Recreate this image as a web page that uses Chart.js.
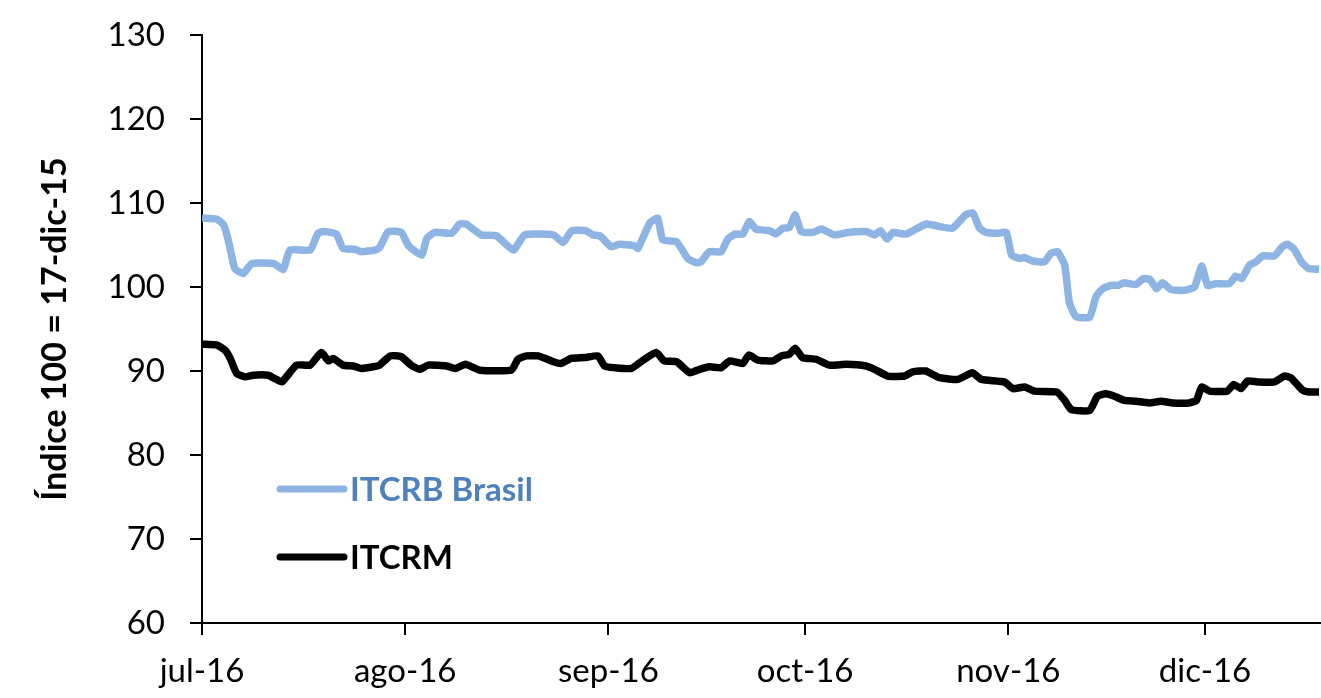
<!DOCTYPE html>
<html>
<head>
<meta charset="utf-8">
<script src="https://cdn.jsdelivr.net/npm/chart.js@4"></script>
<style>
  body { margin: 0; background: #fff; }
  #wrap { width: 1321px; height: 698px; }
</style>
</head>
<body>
<div id="wrap"><canvas id="chart" width="1321" height="698"></canvas></div>
<script>
// days counted from 1-jul-16
var monthStarts = [0, 31, 62, 92, 123, 153];
var monthLabels = ['jul-16', 'ago-16', 'sep-16', 'oct-16', 'nov-16', 'dic-16'];
var yTicks = [60, 70, 80, 90, 100, 110, 120, 130];

// ITCRB Brasil
var brasilDays = [0, 2.2, 3.3, 4, 5, 6.3, 7.6, 10.9, 12.4, 13.4, 16.5, 17.7, 18.5, 20.5, 21.5, 23.3, 24.3, 26.4, 27.1, 28.4,
    30.4, 31.5, 33.5, 34.3, 35.5, 38.1, 39.3, 40.3, 42.6, 44.9, 47.5, 49.2, 53.6, 55.1, 56.4, 58.6, 59.6, 60.7, 62.4, 63.7,
    66, 66.5, 68.3, 69.5, 70.3, 72.4, 74.1, 75.4, 76.1, 77.4, 79.2, 80.2, 81.3, 82.5, 83.5, 84.5, 86.6, 87.5, 88.6, 89.6,
    90.5, 91.4, 93.2, 94.5, 96.5, 98.5, 101.3, 102.6, 103.5, 104.5, 105.4, 107.4, 110.5, 112.5, 114.5, 116.5, 117.6, 118.6, 119.6, 121.4,
    122.7, 123.5, 124.7, 125.5, 126.7, 128.5, 129.5, 130.5, 131.6, 132.3, 133.3, 135.4, 136.4, 137.4, 138.7, 139.7, 140.7, 142.5, 143.6, 144.6,
    145.6, 146.5, 147.8, 149.8, 151.4, 152.5, 153.4, 154.6, 156.7, 157.7, 158.6, 159.8, 160.8, 161.8, 163.6, 164.8, 165.6, 166.6, 167.8, 168.8, 170.4];
var brasilValues = [108.2, 108.1, 107.4, 105.6, 102.2, 101.6, 102.8, 102.8, 102.1, 104.4, 104.4, 106.4, 106.6, 106.3, 104.6, 104.5, 104.2, 104.4, 104.7, 106.6,
    106.5, 104.9, 103.8, 105.8, 106.5, 106.4, 107.5, 107.5, 106.2, 106.1, 104.4, 106.2, 106.2, 105.3, 106.7, 106.7, 106.2, 106.1, 104.8, 105.1,
    104.9, 104.6, 107.6, 108.2, 105.6, 105.4, 103.4, 102.9, 103.0, 104.2, 104.2, 105.7, 106.3, 106.3, 107.8, 106.9, 106.7, 106.3, 107.0, 107.1,
    108.6, 106.6, 106.5, 106.9, 106.2, 106.5, 106.6, 106.2, 106.7, 105.7, 106.5, 106.3, 107.5, 107.2, 107.0, 108.6, 108.8, 107.0, 106.5, 106.4,
    106.5, 103.8, 103.4, 103.5, 103.1, 103.0, 104.0, 104.2, 102.6, 98.2, 96.5, 96.4, 98.9, 99.8, 100.2, 100.2, 100.5, 100.3, 101.0, 100.9,
    99.8, 100.5, 99.7, 99.6, 100.0, 102.5, 100.2, 100.4, 100.4, 101.3, 101.0, 102.6, 103.0, 103.7, 103.7, 104.8, 105.1, 104.5, 102.9, 102.2, 102.1];

// ITCRM
var itcrmDays = [0, 2.2, 3.5, 4.3, 5.3, 6.6, 7.8, 10.1, 11.1, 12.2, 14.4, 16.5, 18.2, 19.3, 20, 21.5, 23.1, 24.3, 26.1, 27.1,
    28.7, 30.4, 31.9, 33.2, 34.5, 37.3, 38.6, 40.2, 42.4, 47.2, 48.2, 49.5, 51.3, 53.6, 54.8, 56.3, 58.4, 60.4, 61.4, 62.9,
    65.5, 67.3, 69.3, 70.5, 72.4, 74.4, 75.9, 77.4, 79.2, 80.5, 82.5, 83.4, 84.8, 87.1, 88.4, 89.6, 90.5, 91.6, 93.7, 95.7,
    98.3, 101.3, 102.6, 104.6, 107.2, 108.4, 110.4, 112.5, 115.3, 117.5, 118.9, 122.4, 123.7, 125.5, 127, 130.4, 131.6, 132.6, 135.4, 136.6,
    137.9, 139.2, 140.7, 142.5, 144.5, 146.3, 148.1, 150.6, 151.7, 152.5, 153.7, 156.4, 157.4, 158.5, 159.5, 161, 163.6, 165.1, 166.1, 167.9, 168.9, 170.4];
var itcrmValues = [93.2, 93.1, 92.5, 91.5, 89.7, 89.3, 89.5, 89.5, 89.1, 88.7, 90.7, 90.7, 92.2, 91.2, 91.5, 90.7, 90.6, 90.3, 90.5, 90.7,
    91.8, 91.7, 90.7, 90.2, 90.7, 90.6, 90.3, 90.8, 90.1, 90.1, 91.4, 91.8, 91.8, 91.1, 90.9, 91.5, 91.6, 91.8, 90.6, 90.4,
    90.3, 91.3, 92.2, 91.2, 91.1, 89.8, 90.2, 90.5, 90.4, 91.2, 90.9, 91.9, 91.3, 91.2, 91.8, 92.0, 92.7, 91.6, 91.4, 90.7,
    90.8, 90.6, 90.2, 89.4, 89.4, 89.9, 90.0, 89.2, 89.0, 89.8, 89.0, 88.7, 87.9, 88.1, 87.6, 87.5, 86.5, 85.4, 85.3, 87.0,
    87.3, 87.0, 86.5, 86.4, 86.2, 86.4, 86.2, 86.2, 86.5, 88.1, 87.6, 87.6, 88.4, 87.9, 88.8, 88.7, 88.7, 89.4, 89.2, 87.7, 87.5, 87.5];

function toPoints(days, values) {
    var pts = [];
    for (var i = 0; i < days.length; i++) {
        pts.push({ x: days[i], y: values[i] });
    }
    return pts;
}

// leyenda dentro del area del grafico, como en el original
var insideLegend = {
    id: 'insideLegend',
    afterDatasetsDraw: function(chart) {
        var ctx = chart.ctx;
        var area = chart.chartArea;
        var rows = [
            { ds: chart.data.datasets[0], color: '#4F81BD', y: area.top + 454 },
            { ds: chart.data.datasets[1], color: '#000000', y: area.top + 522 }
        ];
        ctx.save();
        ctx.font = 'bold 33px Lato';
        ctx.textBaseline = 'middle';
        for (var i = 0; i < rows.length; i++) {
            var r = rows[i];
            ctx.beginPath();
            ctx.lineWidth = 7;
            ctx.lineCap = 'round';
            ctx.strokeStyle = r.ds.borderColor;
            ctx.moveTo(area.left + 78, r.y);
            ctx.lineTo(area.left + 142, r.y);
            ctx.stroke();
            ctx.fillStyle = r.color;
            ctx.fillText(r.ds.label, area.left + 148, r.y + 1);
        }
        ctx.restore();
    }
};

new Chart(document.getElementById('chart').getContext('2d'), {
    type: 'line',
    data: {
        datasets: [
            { label: 'ITCRB Brasil', data: toPoints(brasilDays, brasilValues), borderColor: '#8DB4E3', borderWidth: 7.5,
              pointRadius: 0, tension: 0.15, borderJoinStyle: 'round', fill: false },
            { label: 'ITCRM', data: toPoints(itcrmDays, itcrmValues), borderColor: '#000000', borderWidth: 7.5,
              pointRadius: 0, tension: 0.15, borderJoinStyle: 'round', fill: false }
        ]
    },
    options: {
        responsive: false,
        animation: false,
        layout: { padding: { top: 35, right: 0, left: 0, bottom: 0 } },
        plugins: { legend: { display: false }, tooltip: { enabled: false } },
        scales: {
            x: {
                type: 'linear',
                min: 0,
                max: 170.7,
                afterBuildTicks: function(scale) {
                    scale.ticks = monthStarts.map(function(v) { return { value: v }; });
                },
                afterFit: function(scale) { scale.height = 75; },
                grid: { drawOnChartArea: false, drawTicks: true, tickLength: 12, color: '#000', lineWidth: 2 },
                border: { color: '#000', width: 2 },
                ticks: {
                    autoSkip: false,
                    maxRotation: 0,
                    padding: 17,
                    color: '#000',
                    font: { family: 'Lato', size: 33 },
                    callback: function(value, index) { return monthLabels[index]; }
                }
            },
            y: {
                min: 60,
                max: 130,
                afterBuildTicks: function(scale) {
                    scale.ticks = yTicks.map(function(v) { return { value: v }; });
                },
                afterFit: function(scale) {
                    scale.width = 202;
                    scale.paddingTop = 0;
                    scale.paddingBottom = 0;
                },
                grid: { drawOnChartArea: false, drawTicks: true, tickLength: 12, color: '#000', lineWidth: 2 },
                border: { color: '#000', width: 2 },
                ticks: {
                    padding: 25,
                    color: '#000',
                    font: { family: 'Lato', size: 33 }
                },
                title: {
                    display: true,
                    text: 'Índice 100 = 17-dic-15',
                    color: '#000',
                    font: { family: 'Lato', size: 34, weight: 'bold' },
                    padding: { top: 35, bottom: 0 }
                }
            }
        }
    },
    plugins: [insideLegend]
});
</script>
</body>
</html>
